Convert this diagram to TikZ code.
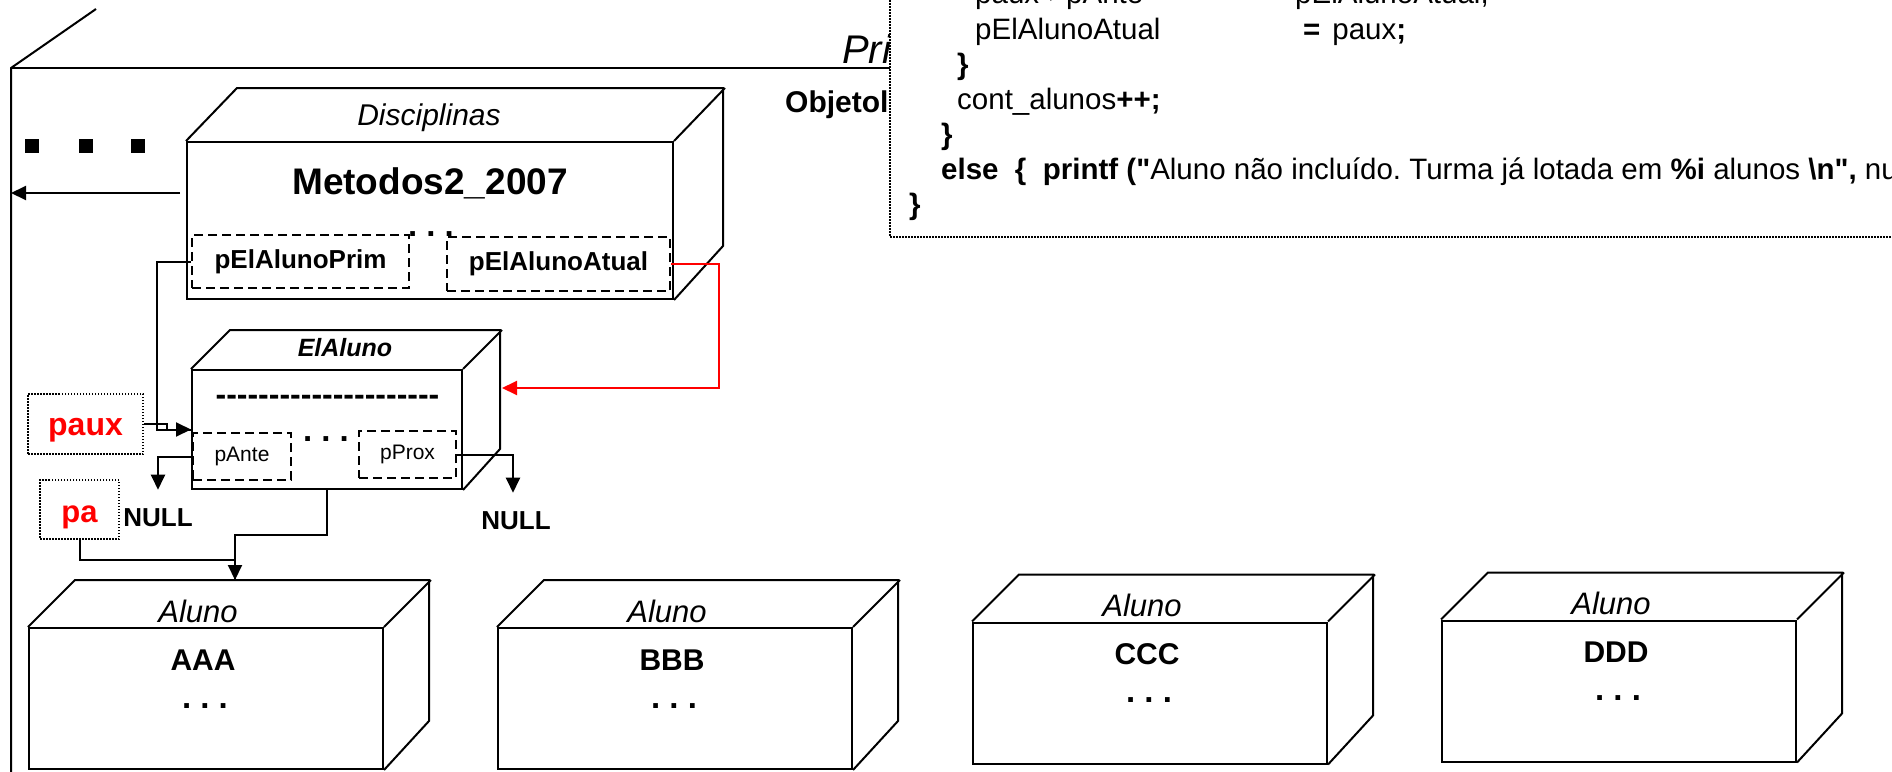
\documentclass[tikz,border=0pt]{standalone}
\usepackage{fontspec}
\setmainfont{Liberation Sans}
\usetikzlibrary{arrows.meta, calc}
\frenchspacing
% aspas retas, sem o mapeamento tex-text
\font\aspasb="Liberation Sans/B" at 29.5pt

\begin{document}
\begin{tikzpicture}[
  x=1pt, y=-1pt,
  edge/.style={line width=2pt},
  face/.style={draw, line width=2pt, fill=white, inner sep=0pt},
  alunobox/.style={face, minimum width=354pt, minimum height=141pt},
  ptrbox/.style={draw, line width=2.2pt, dash pattern=on 9pt off 5pt, fill=white, inner sep=0pt},
  varbox/.style={draw, line width=1.5pt, dash pattern=on 1.5pt off 1.5pt, inner sep=0pt},
  vartxt/.style={inner sep=0pt, text=red, font=\fontsize{32}{38}\selectfont\bfseries},
  codebox/.style={draw, line width=1.5pt, dash pattern=on 1.5pt off 1.5pt, fill=white, inner sep=0pt},
  codeln/.style={anchor=base west, inner sep=0pt, font=\fontsize{29.5}{35}\selectfont},
  lbl/.style={inner sep=0pt},
  dots/.style={anchor=base, inner sep=0pt, font=\fontsize{33}{33}\selectfont\bfseries},
  sq/.style={fill=black, minimum size=14pt, inner sep=0pt},
  link/.style={line width=2pt, -{Triangle[length=15pt, width=14pt]}},
  wire/.style={line width=2pt},
]
  \useasboundingbox (0,0) rectangle (1892,771);
  \clip (0,0) rectangle (1892,771);

  % outer frame
  \draw[edge] (96,9) -- (11,68) -- (11,790);
  \draw[edge] (11,68) -- (900,68);
  \node[lbl, anchor=base west, font=\fontsize{40}{44}\selectfont\itshape] (prin) at (842,63) {Pri};
  \node[lbl, anchor=base west, font=\fontsize{30}{36}\selectfont\bfseries] (objeto) at (785,112) {Objetol};
  \foreach \x [count=\i] in {32,86,138}
    \node[sq] (sq\i) at (\x,146) {};

  % Disciplinas
  \node[face, minimum width=486pt, minimum height=157pt] (disc) at (430,220.5) {};
  \draw[edge] (disc.north west) -- ++(51,-53) -- ++(486,0) -- ++(0,158) -- (disc.south east);
  \draw[edge] (disc.north east) -- ++(51,-53);
  \node[lbl, font=\fontsize{30}{36}\selectfont\itshape] (disctit) at (429,118) {Disciplinas};
  \node[lbl, font=\fontsize{37}{42}\selectfont\bfseries] (metodos) at (430,183) {Metodos2\_2007};
  \node[dots] (discdots) at (431,236) {. . .};
  \node[ptrbox, minimum width=217pt, minimum height=53pt, font=\fontsize{26}{30}\selectfont\bfseries]
    (prim) at (300.5,261.5) {pElAlunoPrim};
  \node[ptrbox, minimum width=223pt, minimum height=54pt, font=\fontsize{26}{30}\selectfont\bfseries]
    (atual) at (558.5,264) {pElAlunoAtual};

  % ElAluno
  \node[face, minimum width=270pt, minimum height=119pt] (elal) at (327,429.5) {};
  \draw[edge] (elal.north west) -- ++(39,-39) -- ++(270,0) -- ++(0,119) -- (elal.south east);
  \draw[edge] (elal.north east) -- ++(39,-39);
  \node[lbl, font=\fontsize{25}{30}\selectfont\bfseries\itshape] (elaltit) at (345,348) {ElAluno};
  \node[lbl, anchor=base, font=\fontsize{32}{32}\selectfont\bfseries] (tracos) at (327.5,405)
    {\foreach \k in {1,...,21}{-\kern0pt}};
  \node[dots] (elaldots) at (326,441) {. . .};
  \node[ptrbox, minimum width=98pt, minimum height=47pt, font=\fontsize{21}{25}\selectfont]
    (pante) at (242,456.5) {pAnte};
  \node[ptrbox, minimum width=97pt, minimum height=47pt, font=\fontsize{21}{25}\selectfont]
    (pprox) at (407.5,454.5) {pProx};
  \coordinate (elalR) at ($(elal.north east)+(39,19)$);

  \node[varbox, minimum width=115pt, minimum height=60pt] (paux) at (85.5,424) {};
  \node[vartxt] (pauxtxt) at (85.5,430) {paux};
  \node[varbox, minimum width=79pt, minimum height=59pt] (pa) at (79.5,509.5) {};
  \node[vartxt, font=\fontsize{31}{36}\selectfont\bfseries] (patxt) at (79.5,517) {pa};
  \node[lbl, font=\fontsize{26}{30}\selectfont\bfseries] (nulla) at (158,518) {NULL};
  \node[lbl, font=\fontsize{26}{30}\selectfont\bfseries] (nullb) at (516,521) {NULL};

  % Alunos
  \foreach \nome/\cx/\cy/\txt in {alA/206/698.5/AAA, alB/675/698.5/BBB, alC/1150/693/CCC, alD/1619/691/DDD} {
    \node[alunobox] (\nome) at (\cx,\cy) {};
    \draw[edge] (\nome.north west) -- ++(47,-47) -- ++(354,0) -- ++(0,141) -- (\nome.south east);
    \draw[edge] (\nome.north east) -- ++(47,-47);
    \node[lbl, font=\fontsize{31}{36}\selectfont\itshape] (\nome tit) at ($(\nome.north)+(-8,-16)$) {Aluno};
    \node[lbl, font=\fontsize{30}{36}\selectfont\bfseries] (\nome txt) at ($(\nome.north)+(-3,33)$) {\txt};
    \node[dots] (\nome dots) at ($(\nome.north)+(-1,81)$) {. . .};
  }
  \coordinate (alAin) at (235,580);
  \coordinate (frameL) at (11,193);

  % ligacoes
  \draw[link] ([yshift=27.5pt, xshift=-6pt]disc.west) -- (frameL);
  \draw[link] (prim.west) -- ++(-34,0) |- (elal.west);
  \draw[wire] (paux.east) -- ++(23,0) |- (elal.west);
  \draw[link] (pante.west) -| ([yshift=19pt]nulla.north);
  \draw[link] (pprox.east) -| ([yshift=19pt, xshift=-3pt]nullb.north);
  \draw[link] (elal.south) -- ++(0,45) -| (alAin);
  \draw[wire] (pa.south) -- ++(0,20) -| (alAin);
  \draw[link, red] (atual.east) -- ++(48,0) |- (elalR);

  % codigo
  \node[codebox, minimum width=1010pt, minimum height=250pt] (code) at (1395,112) {};
  \node[codeln] (l1a) at (975,4) {paux->pAnte};
  \node[codeln] (l1b) at (1295,4) {pElAlunoAtual;};
  \node[codeln] (l2a) at (975,39) {pElAlunoAtual};
  \node[codeln] (l2b) at (1303,39) {\textbf{=}\hspace{12pt}paux\textbf{;}};
  \node[codeln] (l3) at (957,74) {\textbf{\}}};
  \node[codeln] (l4) at (957,109) {cont\_alunos\textbf{++;}};
  \node[codeln] (l5) at (941,144) {\textbf{\}}};
  \node[codeln] (l6) at (941,179)
    {\textbf{else\ \ \{\ \ printf (}{\aspasb"}Aluno não incluído. Turma já lotada em \textbf{\%i} alunos \textbf{\textbackslash n}{\aspasb"}\textbf{,} nu};
  \node[codeln] (l7) at (909,214) {\textbf{\}}};
\end{tikzpicture}
\end{document}
